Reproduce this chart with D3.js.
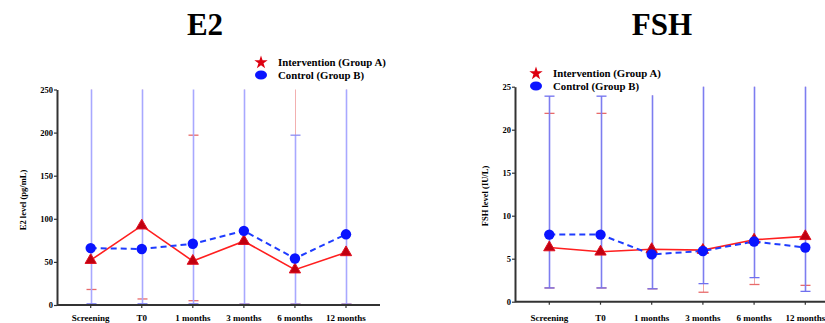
<!DOCTYPE html>
<meta charset="utf-8">
<style>
body { margin: 0; background: #fff; }
text { font-family: "Liberation Serif", "Times New Roman", serif; font-weight: bold; }
.err { fill: none; }
</style>
<body>
<script src="https://d3js.org/d3.v7.min.js"></script>
<script>
// categories shared by both panels
var visits = ["Screening", "T0", "1 months", "3 months", "6 months", "12 months"];

// E2 (pg/mL)
var e2Ticks = [0, 50, 100, 150, 200, 250];
var e2A = [52, 92, 51, 74, 41, 61];
var e2B = [66, 65, 71, 86, 54, 82];
var e2AUpper = [300, 300, 197, 300, 300, 300];
var e2ALower = [18, 7, 5, 1, 1, 1];
var e2BUpper = [300, 300, 300, 300, 197, 300];
var e2BLower = [1.5, 1.5, 1.5, 1, 1, 1];

// FSH (IU/L)
var fshTicks = [0, 5, 10, 15, 20, 25];
var fshA = [6.3, 5.8, 6.1, 6.0, 7.2, 7.6];
var fshB = [7.8, 7.8, 5.5, 5.9, 7.0, 6.3];
var fshAUpper = [21.9, 21.9, 24.0, 30, 30, 30];
var fshALower = [1.6, 1.6, 1.5, 1.1, 2.0, 1.9];
var fshBUpper = [23.9, 23.9, 24.0, 30, 30, 30];
var fshBLower = [1.6, 1.6, 1.5, 2.1, 2.8, 1.2];

var svg = d3.select("body").append("svg")
    .attr("width", 825)
    .attr("height", 323);

function panel(o) {
  var x = d3.scalePoint().domain(visits).range([o.x0, o.x1]);
  var y = d3.scaleLinear().domain([0, o.ymax]).range([o.yBottom, o.yTop]);
  var g = svg.append("g");

  // title
  g.append("text")
      .attr("x", o.titleX).attr("y", 35)
      .attr("text-anchor", "middle")
      .style("font-size", "31px")
      .text(o.title);

  // error bars (group A under group B)
  function bars(upper, lower, col, capCol, topCap, w) {
    visits.forEach(function(v, i) {
      var cx = Math.round(x(v)) + 0.5;
      var top = y(Math.min(upper[i], o.ymax)), bot = y(lower[i]);
      g.append("line").attr("class", "err")
          .attr("x1", cx).attr("x2", cx)
          .attr("y1", top).attr("y2", bot)
          .style("stroke", col).style("stroke-width", w);
      if (upper[i] <= o.ymax && topCap[i]) {
        g.append("line").attr("class", "err")
            .attr("x1", cx - 5).attr("x2", cx + 5)
            .attr("y1", top).attr("y2", top)
            .style("stroke", capCol).style("stroke-width", 1.3);
      }
      g.append("line").attr("class", "err")
          .attr("x1", cx - 5).attr("x2", cx + 5)
          .attr("y1", bot).attr("y2", bot)
          .style("stroke", capCol).style("stroke-width", 1.3);
    });
  }
  bars(o.aUp, o.aLo, o.redBar, "#e86a6a", o.aCaps, 1);
  bars(o.bUp, o.bLo, o.blueBar, o.blueCap, o.bCaps, 1.6);

  // axes
  var yAxis = d3.axisLeft(y).tickValues(o.ticks).tickSize(3).tickSizeOuter(0);
  var ya = g.append("g")
      .attr("transform", "translate(" + o.axisX + ",0)")
      .call(yAxis);
  ya.select(".domain").attr("stroke", "#333").attr("stroke-width", 2);
  ya.selectAll(".tick line").attr("stroke", "#333").attr("stroke-width", 1.2);
  ya.selectAll(".tick text").attr("x", -4).style("font-size", "8.5px")
      .style("font-family", "'Liberation Serif', serif").style("font-weight", "bold");

  g.append("line")
      .attr("x1", o.axisX).attr("x2", o.axisEnd)
      .attr("y1", y(0)).attr("y2", y(0))
      .attr("stroke", "#333").attr("stroke-width", 2);
  visits.forEach(function(v) {
    g.append("line")
        .attr("x1", x(v)).attr("x2", x(v))
        .attr("y1", y(0)).attr("y2", y(0) + 3)
        .attr("stroke", "#333").attr("stroke-width", 1.2);
    g.append("text")
        .attr("x", x(v)).attr("y", 321)
        .attr("text-anchor", "middle")
        .style("font-size", "9px")
        .text(v);
  });

  // y label
  g.append("text")
      .attr("transform", "translate(" + o.labelX + "," + o.labelY + ") rotate(-90)")
      .attr("text-anchor", "middle")
      .style("font-size", "8.5px")
      .text(o.ylabel);

  // lines
  var lineA = d3.line().x(function(d, i) { return x(visits[i]); }).y(function(d) { return y(d); });
  g.append("path").datum(o.a)
      .attr("d", lineA)
      .attr("fill", "none").attr("stroke", "#ff1f1f").attr("stroke-width", 1.6);
  g.append("path").datum(o.b)
      .attr("d", lineA)
      .attr("fill", "none").attr("stroke", "#1f3cff").attr("stroke-width", 2)
      .attr("stroke-dasharray", "6,4");

  var tri = d3.symbol().type(d3.symbolTriangle).size(55);
  g.selectAll(".ma").data(o.a).enter().append("path")
      .attr("d", tri)
      .attr("transform", function(d, i) { return "translate(" + x(visits[i]) + "," + y(d) + ")"; })
      .attr("fill", "#c00010").attr("stroke", "#e01020").attr("stroke-width", 1);
  g.selectAll(".mb").data(o.b).enter().append("circle")
      .attr("cx", function(d, i) { return x(visits[i]); })
      .attr("cy", function(d) { return y(d); })
      .attr("r", 5.2)
      .attr("fill", "#0a14ff");

  // legend
  var lg = g.append("g");
  lg.append("path")
      .attr("d", d3.symbol().type(d3.symbolStar).size(55))
      .attr("transform", "translate(" + o.legX + "," + o.legY + ")")
      .attr("fill", "#dd0010");
  lg.append("ellipse")
      .attr("cx", o.legX).attr("cy", o.legY + 12.5)
      .attr("rx", 6).attr("ry", 4.5)
      .attr("fill", "#0a14ff");
  lg.append("text").attr("x", o.legX + 17).attr("y", o.legY + 3.5)
      .style("font-size", "10.8px").text("Intervention (Group A)");
  lg.append("text").attr("x", o.legX + 17).attr("y", o.legY + 16)
      .style("font-size", "10.8px").text("Control (Group B)");
}

panel({
  title: "E2", titleX: 205,
  x0: 90.7, x1: 346, axisX: 57, axisEnd: 380,
  yBottom: 305, yTop: 89.5, ymax: 250, ticks: e2Ticks,
  a: e2A, b: e2B, aUp: e2AUpper, aLo: e2ALower, bUp: e2BUpper, bLo: e2BLower,
  redBar: "#f2b0b0", blueBar: "#a8a8ff", blueCap: "#8c8cf4",
  aCaps: [1, 1, 1, 1, 1, 1], bCaps: [1, 1, 1, 1, 1, 1],
  ylabel: "E2 level (pg/mL)", labelX: 26, labelY: 200,
  legX: 261, legY: 62.5
});

panel({
  title: "FSH", titleX: 662,
  x0: 549.3, x1: 805.3, axisX: 515, axisEnd: 825,
  yBottom: 301.7, yTop: 86.7, ymax: 25, ticks: fshTicks,
  a: fshA, b: fshB, aUp: fshAUpper, aLo: fshALower, bUp: fshBUpper, bLo: fshBLower,
  redBar: "#f2a8a8", blueBar: "#7d7df0", blueCap: "#7070ee",
  aCaps: [1, 1, 0, 1, 1, 1], bCaps: [1, 1, 0, 1, 1, 1],
  ylabel: "FSH level (IU/L)", labelX: 488, labelY: 196,
  legX: 536, legY: 73.5
});
</script>
</body>
